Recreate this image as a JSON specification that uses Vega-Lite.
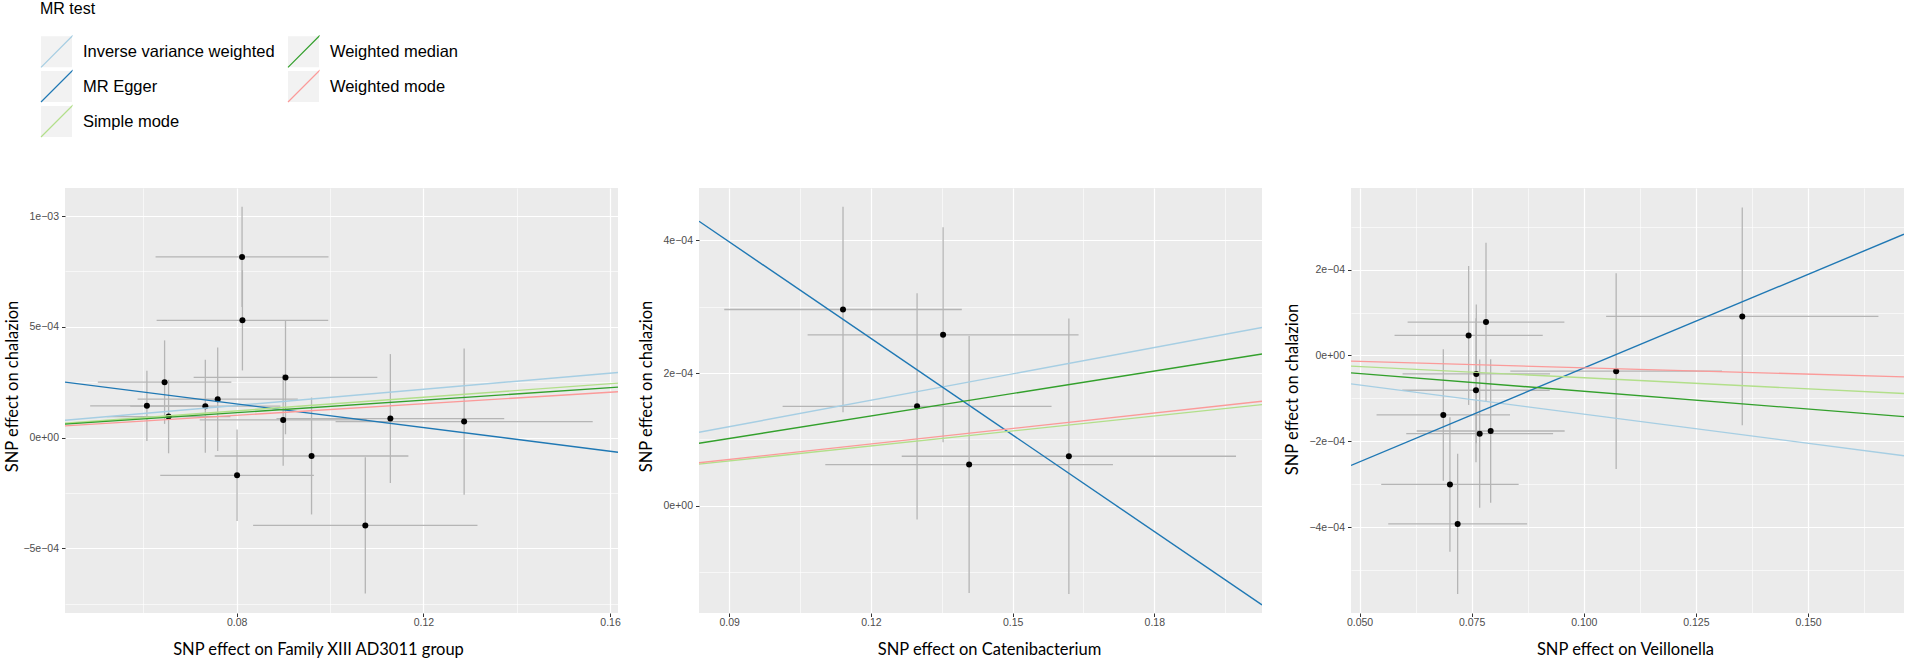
{
  "$schema": "https://vega.github.io/schema/vega-lite/v6.json",
  "autosize": {"type": "none"},
  "padding": {"left": 65, "top": 188, "right": 1842, "bottom": 470},
  "background": "white",
  "config": {
    "view": {"fill": "#EBEBEB", "stroke": null},
    "axis": {
      "domain": false, "tickColor": "#333333", "tickSize": 3.5, "tickWidth": 1,
      "labelColor": "#4D4D4D", "labelFont": "Liberation Sans", "labelFontSize": 10.5,
      "gridColor": "#FFFFFF", "titleFont": "Lato", "titleFontSize": 16.5,
      "titleFontWeight": "normal", "titleColor": "#000000", "labelFlush": false
    },
    "axisX": {"labelPadding": 0.5, "titleBaseline": "alphabetic", "titleAlign": "center", "titleY": 41},
    "axisY": {"labelPadding": 3, "titleBaseline": "alphabetic", "titleAlign": "center", "titleAngle": -90},
    "legend": {
      "titleFont": "Liberation Sans", "titleFontSize": 16, "titleFontWeight": "normal", "titleColor": "#000000",
      "labelFont": "Liberation Sans", "labelFontSize": 16.5, "labelColor": "#000000",
      "padding": 0, "offset": 0
    }
  },
  "datasets": {
    "p1pts": [
      {"x":0.06075,"y":0.0001433,"xlo":0.04859,"xhi":0.07292,"ylo":-0.0000151,"yhi":0.0003017},
      {"x":0.06454,"y":0.0002504,"xlo":0.05023,"xhi":0.07885,"ylo":0.0000619,"yhi":0.0004389},
      {"x":0.06540,"y":0.0000950,"xlo":0.05216,"xhi":0.07864,"ylo":-0.0000709,"yhi":0.0002609},
      {"x":0.07327,"y":0.0001418,"xlo":0.05717,"xhi":0.08937,"ylo":-0.0000679,"yhi":0.0003515},
      {"x":0.07592,"y":0.0001735,"xlo":0.05875,"xhi":0.09309,"ylo":-0.0000603,"yhi":0.0004073},
      {"x":0.08114,"y":0.000816,"xlo":0.06261,"xhi":0.09967,"ylo":0.0005898,"yhi":0.0010422},
      {"x":0.08122,"y":0.0005294,"xlo":0.06283,"xhi":0.09961,"ylo":0.0003032,"yhi":0.0007556},
      {"x":0.09045,"y":0.0002715,"xlo":0.07077,"xhi":0.11013,"ylo":0.0000151,"yhi":0.0005279},
      {"x":0.08995,"y":0.0000799,"xlo":0.07206,"xhi":0.10784,"ylo":-0.0001267,"yhi":0.0002865},
      {"x":0.09603,"y":-0.000083,"xlo":0.07528,"xhi":0.11678,"ylo":-0.000347,"yhi":0.000181},
      {"x":0.08007,"y":-0.0001704,"xlo":0.06361,"xhi":0.09653,"ylo":-0.000377,"yhi":0.0000362},
      {"x":0.10755,"y":-0.0003967,"xlo":0.08351,"xhi":0.13159,"ylo":-0.0007044,"yhi":-0.000089},
      {"x":0.11292,"y":0.000086,"xlo":0.08852,"xhi":0.13732,"ylo":-0.0002051,"yhi":0.0003771},
      {"x":0.12873,"y":0.0000724,"xlo":0.10118,"xhi":0.15628,"ylo":-0.0002579,"yhi":0.0004027}
    ],
    "p1lines": [
      {"method":"Inverse variance weighted","x":0.0432,"y":0.000078},
      {"method":"Inverse variance weighted","x":0.1617,"y":0.000294},
      {"method":"MR Egger","x":0.0432,"y":0.0002504},
      {"method":"MR Egger","x":0.1617,"y":-0.000066},
      {"method":"Simple mode","x":0.0432,"y":0.0000645},
      {"method":"Simple mode","x":0.1617,"y":0.000246},
      {"method":"Weighted median","x":0.0432,"y":0.0000609},
      {"method":"Weighted median","x":0.1617,"y":0.000228},
      {"method":"Weighted mode","x":0.0432,"y":0.000053},
      {"method":"Weighted mode","x":0.1617,"y":0.000207}
    ],
    "p2pts": [
      {"x":0.11409,"y":0.0002957,"xlo":0.08894,"xhi":0.13924,"ylo":0.0001408,"yhi":0.0004506},
      {"x":0.13528,"y":0.0002576,"xlo":0.1066,"xhi":0.16396,"ylo":0.0000956,"yhi":0.0004196},
      {"x":0.12977,"y":0.0001499,"xlo":0.1013,"xhi":0.15824,"ylo":-0.0000205,"yhi":0.0003203},
      {"x":0.14079,"y":0.0000622,"xlo":0.11034,"xhi":0.17124,"ylo":-0.0001313,"yhi":0.0002557},
      {"x":0.16191,"y":0.0000747,"xlo":0.12652,"xhi":0.1973,"ylo":-0.0001328,"yhi":0.0002822}
    ],
    "p2lines": [
      {"method":"Inverse variance weighted","x":0.0836,"y":0.0001108},
      {"method":"Inverse variance weighted","x":0.2028,"y":0.0002687},
      {"method":"MR Egger","x":0.0836,"y":0.0004286},
      {"method":"MR Egger","x":0.2028,"y":-0.0001492},
      {"method":"Simple mode","x":0.0836,"y":0.0000628},
      {"method":"Simple mode","x":0.2028,"y":0.0001525},
      {"method":"Weighted median","x":0.0836,"y":0.0000942},
      {"method":"Weighted median","x":0.2028,"y":0.0002288},
      {"method":"Weighted mode","x":0.0836,"y":0.0000649},
      {"method":"Weighted mode","x":0.2028,"y":0.0001576}
    ],
    "p3pts": [
      {"x":0.13534,"y":0.0000912,"xlo":0.10498,"xhi":0.1657,"ylo":-0.0001628,"yhi":0.0003452},
      {"x":0.10722,"y":-0.0000366,"xlo":0.08362,"xhi":0.13082,"ylo":-0.0002649,"yhi":0.0001917},
      {"x":0.0782,"y":0.0000779,"xlo":0.06072,"xhi":0.09568,"ylo":-0.0001071,"yhi":0.0002629},
      {"x":0.07433,"y":0.0000467,"xlo":0.05781,"xhi":0.09085,"ylo":-0.0001153,"yhi":0.0002087},
      {"x":0.07604,"y":-0.0000429,"xlo":0.0596,"xhi":0.09248,"ylo":-0.0002049,"yhi":0.0001191},
      {"x":0.07597,"y":-0.000081,"xlo":0.05953,"xhi":0.09241,"ylo":-0.000249,"yhi":0.000087},
      {"x":0.06868,"y":-0.0001387,"xlo":0.0538,"xhi":0.08356,"ylo":-0.0002922,"yhi":0.0000148},
      {"x":0.07679,"y":-0.0001823,"xlo":0.06042,"xhi":0.09316,"ylo":-0.0003553,"yhi":-0.0000093},
      {"x":0.07924,"y":-0.0001761,"xlo":0.06274,"xhi":0.09574,"ylo":-0.0003436,"yhi":-0.0000086},
      {"x":0.07016,"y":-0.0003007,"xlo":0.05484,"xhi":0.08548,"ylo":-0.0004575,"yhi":-0.0001439},
      {"x":0.07188,"y":-0.0003927,"xlo":0.0564,"xhi":0.08736,"ylo":-0.0005563,"yhi":-0.0002291}
    ],
    "p3lines": [
      {"method":"Inverse variance weighted","x":0.0481,"y":-0.0000662},
      {"method":"Inverse variance weighted","x":0.1714,"y":-0.0002337},
      {"method":"MR Egger","x":0.0481,"y":-0.0002563},
      {"method":"MR Egger","x":0.1714,"y":0.0002828},
      {"method":"Simple mode","x":0.0481,"y":-0.0000249},
      {"method":"Simple mode","x":0.1714,"y":-0.0000888},
      {"method":"Weighted median","x":0.0481,"y":-0.0000405},
      {"method":"Weighted median","x":0.1714,"y":-0.0001426},
      {"method":"Weighted mode","x":0.0481,"y":-0.0000132},
      {"method":"Weighted mode","x":0.1714,"y":-0.0000499}
    ]
  },
  "bounds": "flush",
  "spacing": 81,
  "resolve": {"scale": {"color": "shared", "x": "independent", "y": "independent"}, "legend": {"color": "shared"}},
  "hconcat": [
    {
      "width": 553, "height": 425,
      "layer": [
        {
          "data": {"name": "p1pts"},
          "mark": {"type": "rule", "color": "#B5B5B5", "strokeWidth": 1.3, "clip": true},
          "encoding": {
            "x": {"field": "xlo", "type": "quantitative",
              "scale": {"domain": [0.0432, 0.1617], "nice": false, "zero": false},
              "axis": {
                "title": "SNP effect on Family XIII AD3011 group",
                "values": [0.06, 0.08, 0.1, 0.12, 0.14, 0.16],
                "labelExpr": "indexof([0.08,0.12,0.16], datum.value) >= 0 ? format(datum.value, '.2f') : ''",
                "gridWidth": {"condition": {"test": "indexof([0.08,0.12,0.16], datum.value) >= 0", "value": 1.2}, "value": 0.6},
                "tickOpacity": {"condition": {"test": "indexof([0.08,0.12,0.16], datum.value) >= 0", "value": 1}, "value": 0},
                "titleX": 253
              }},
            "x2": {"field": "xhi"},
            "y": {"field": "y", "type": "quantitative",
              "scale": {"domain": [-0.000792, 0.001127], "nice": false, "zero": false},
              "axis": {
                "title": "SNP effect on chalazion",
                "values": [-0.00075, -0.0005, -0.00025, 0, 0.00025, 0.0005, 0.00075, 0.001],
                "labelExpr": "datum.value == 0.001 ? '1e−03' : datum.value == 0.0005 ? '5e−04' : datum.value == 0 ? '0e+00' : datum.value == -0.0005 ? '−5e−04' : ''",
                "gridWidth": {"condition": {"test": "indexof([-0.0005,0,0.0005,0.001], datum.value) >= 0", "value": 1.2}, "value": 0.6},
                "tickOpacity": {"condition": {"test": "indexof([-0.0005,0,0.0005,0.001], datum.value) >= 0", "value": 1}, "value": 0},
                "titleX": -48, "titleY": 198
              }}
          }
        },
        {
          "data": {"name": "p1pts"},
          "mark": {"type": "rule", "color": "#B5B5B5", "strokeWidth": 1.3, "clip": true},
          "encoding": {
            "x": {"field": "x", "type": "quantitative", "scale": {"domain": [0.0432, 0.1617], "nice": false, "zero": false}},
            "y": {"field": "ylo", "type": "quantitative", "scale": {"domain": [-0.000792, 0.001127], "nice": false, "zero": false}},
            "y2": {"field": "yhi"}
          }
        },
        {
          "data": {"name": "p1pts"},
          "mark": {"type": "circle", "size": 36, "color": "#000000", "opacity": 1},
          "encoding": {
            "x": {"field": "x", "type": "quantitative", "scale": {"domain": [0.0432, 0.1617], "nice": false, "zero": false}},
            "y": {"field": "y", "type": "quantitative", "scale": {"domain": [-0.000792, 0.001127], "nice": false, "zero": false}}
          }
        },
        {
          "data": {"name": "p1lines"},
          "mark": {"type": "line", "strokeWidth": 1.4, "clip": true},
          "encoding": {
            "x": {"field": "x", "type": "quantitative", "scale": {"domain": [0.0432, 0.1617], "nice": false, "zero": false}},
            "y": {"field": "y", "type": "quantitative", "scale": {"domain": [-0.000792, 0.001127], "nice": false, "zero": false}},
            "color": {"field": "method", "type": "nominal",
              "scale": {"domain": ["Inverse variance weighted", "MR Egger", "Simple mode", "Weighted median", "Weighted mode"], "range": ["#A6CEE3", "#1F78B4", "#B2DF8A", "#33A02C", "#FB9A99"]},
              "legend": {"title": "MR test", "orient": "none", "legendX": -25, "legendY": -187, "columns": 2, "symbolType": "M-1,1L1,-1L1,1L-1,1L-1,-1L1,-1", "symbolSize": 961, "symbolStrokeWidth": 1.2, "symbolDash": [43.9, 400], "symbolFillColor": "#F2F2F2", "rowPadding": -7, "columnPadding": 10, "labelOffset": 9.9, "labelLimit": 0, "titlePadding": 18,
                "encode": {"symbols": {"update": {"fill": {"value": "#F2F2F2"}, "strokeDash": {"value": [43.9, 400]}}}}}}
          }
        }
      ]
    },
    {
      "bounds": "flush",
      "spacing": 89,
      "resolve": {"scale": {"color": "shared", "x": "independent", "y": "independent"}, "legend": {"color": "shared"}},
      "hconcat": [
        {
          "width": 563, "height": 425,
          "layer": [
            {
              "data": {"name": "p2pts"},
              "mark": {"type": "rule", "color": "#B5B5B5", "strokeWidth": 1.3, "clip": true},
              "encoding": {
                "x": {"field": "xlo", "type": "quantitative",
                  "scale": {"domain": [0.0836, 0.2028], "nice": false, "zero": false},
                  "axis": {
                    "title": "SNP effect on Catenibacterium",
                    "values": [0.09, 0.105, 0.12, 0.135, 0.15, 0.165, 0.18, 0.195],
                    "labelExpr": "indexof([0.09,0.12,0.15,0.18], datum.value) >= 0 ? format(datum.value, '.2f') : ''",
                    "gridWidth": {"condition": {"test": "indexof([0.09,0.12,0.15,0.18], datum.value) >= 0", "value": 1.2}, "value": 0.6},
                    "tickOpacity": {"condition": {"test": "indexof([0.09,0.12,0.15,0.18], datum.value) >= 0", "value": 1}, "value": 0},
                    "titleX": 290
                  }},
                "x2": {"field": "xhi"},
                "y": {"field": "y", "type": "quantitative",
                  "scale": {"domain": [-0.0001614, 0.0004787], "nice": false, "zero": false},
                  "axis": {
                    "title": "SNP effect on chalazion",
                    "values": [-0.0001, 0, 0.0001, 0.0002, 0.0003, 0.0004],
                    "labelExpr": "datum.value == 0.0004 ? '4e−04' : datum.value == 0.0002 ? '2e−04' : datum.value == 0 ? '0e+00' : ''",
                    "gridWidth": {"condition": {"test": "indexof([0,0.0002,0.0004], datum.value) >= 0", "value": 1.2}, "value": 0.6},
                    "tickOpacity": {"condition": {"test": "indexof([0,0.0002,0.0004], datum.value) >= 0", "value": 1}, "value": 0},
                    "titleX": -48, "titleY": 198
                  }}
              }
            },
            {
              "data": {"name": "p2pts"},
              "mark": {"type": "rule", "color": "#B5B5B5", "strokeWidth": 1.3, "clip": true},
              "encoding": {
                "x": {"field": "x", "type": "quantitative", "scale": {"domain": [0.0836, 0.2028], "nice": false, "zero": false}},
                "y": {"field": "ylo", "type": "quantitative", "scale": {"domain": [-0.0001614, 0.0004787], "nice": false, "zero": false}},
                "y2": {"field": "yhi"}
              }
            },
            {
              "data": {"name": "p2pts"},
              "mark": {"type": "circle", "size": 36, "color": "#000000", "opacity": 1},
              "encoding": {
                "x": {"field": "x", "type": "quantitative", "scale": {"domain": [0.0836, 0.2028], "nice": false, "zero": false}},
                "y": {"field": "y", "type": "quantitative", "scale": {"domain": [-0.0001614, 0.0004787], "nice": false, "zero": false}}
              }
            },
            {
              "data": {"name": "p2lines"},
              "mark": {"type": "line", "strokeWidth": 1.4, "clip": true},
              "encoding": {
                "x": {"field": "x", "type": "quantitative", "scale": {"domain": [0.0836, 0.2028], "nice": false, "zero": false}},
                "y": {"field": "y", "type": "quantitative", "scale": {"domain": [-0.0001614, 0.0004787], "nice": false, "zero": false}},
                "color": {"field": "method", "type": "nominal",
                  "scale": {"domain": ["Inverse variance weighted", "MR Egger", "Simple mode", "Weighted median", "Weighted mode"], "range": ["#A6CEE3", "#1F78B4", "#B2DF8A", "#33A02C", "#FB9A99"]},
                  "legend": {"title": "MR test", "orient": "none", "legendX": -25, "legendY": -187, "columns": 2, "symbolType": "M-1,1L1,-1L1,1L-1,1L-1,-1L1,-1", "symbolSize": 961, "symbolStrokeWidth": 1.2, "symbolDash": [43.9, 400], "symbolFillColor": "#F2F2F2", "rowPadding": -7, "columnPadding": 10, "labelOffset": 9.9, "labelLimit": 0, "titlePadding": 18,
                    "encode": {"symbols": {"update": {"fill": {"value": "#F2F2F2"}, "strokeDash": {"value": [43.9, 400]}}}}}}
              }
            }
          ]
        },
        {
          "width": 553, "height": 425,
          "layer": [
            {
              "data": {"name": "p3pts"},
              "mark": {"type": "rule", "color": "#B5B5B5", "strokeWidth": 1.3, "clip": true},
              "encoding": {
                "x": {"field": "xlo", "type": "quantitative",
                  "scale": {"domain": [0.0481, 0.1714], "nice": false, "zero": false},
                  "axis": {
                    "title": "SNP effect on Veillonella",
                    "values": [0.05, 0.0625, 0.075, 0.0875, 0.1, 0.1125, 0.125, 0.1375, 0.15, 0.1625],
                    "labelExpr": "indexof([0.05,0.075,0.1,0.125,0.15], datum.value) >= 0 ? format(datum.value, '.3f') : ''",
                    "gridWidth": {"condition": {"test": "indexof([0.05,0.075,0.1,0.125,0.15], datum.value) >= 0", "value": 1.2}, "value": 0.6},
                    "tickOpacity": {"condition": {"test": "indexof([0.05,0.075,0.1,0.125,0.15], datum.value) >= 0", "value": 1}, "value": 0},
                    "titleX": 274
                  }},
                "x2": {"field": "xhi"},
                "y": {"field": "y", "type": "quantitative",
                  "scale": {"domain": [-0.0006005, 0.0003906], "nice": false, "zero": false},
                  "axis": {
                    "title": "SNP effect on chalazion",
                    "values": [-0.0005, -0.0004, -0.0003, -0.0002, -0.0001, 0, 0.0001, 0.0002, 0.0003],
                    "labelExpr": "datum.value == 0.0002 ? '2e−04' : datum.value == 0 ? '0e+00' : datum.value == -0.0002 ? '−2e−04' : datum.value == -0.0004 ? '−4e−04' : ''",
                    "gridWidth": {"condition": {"test": "indexof([-0.0004,-0.0002,0,0.0002], datum.value) >= 0", "value": 1.2}, "value": 0.6},
                    "tickOpacity": {"condition": {"test": "indexof([-0.0004,-0.0002,0,0.0002], datum.value) >= 0", "value": 1}, "value": 0},
                    "titleX": -54, "titleY": 201
                  }}
              }
            },
            {
              "data": {"name": "p3pts"},
              "mark": {"type": "rule", "color": "#B5B5B5", "strokeWidth": 1.3, "clip": true},
              "encoding": {
                "x": {"field": "x", "type": "quantitative", "scale": {"domain": [0.0481, 0.1714], "nice": false, "zero": false}},
                "y": {"field": "ylo", "type": "quantitative", "scale": {"domain": [-0.0006005, 0.0003906], "nice": false, "zero": false}},
                "y2": {"field": "yhi"}
              }
            },
            {
              "data": {"name": "p3pts"},
              "mark": {"type": "circle", "size": 36, "color": "#000000", "opacity": 1},
              "encoding": {
                "x": {"field": "x", "type": "quantitative", "scale": {"domain": [0.0481, 0.1714], "nice": false, "zero": false}},
                "y": {"field": "y", "type": "quantitative", "scale": {"domain": [-0.0006005, 0.0003906], "nice": false, "zero": false}}
              }
            },
            {
              "data": {"name": "p3lines"},
              "mark": {"type": "line", "strokeWidth": 1.4, "clip": true},
              "encoding": {
                "x": {"field": "x", "type": "quantitative", "scale": {"domain": [0.0481, 0.1714], "nice": false, "zero": false}},
                "y": {"field": "y", "type": "quantitative", "scale": {"domain": [-0.0006005, 0.0003906], "nice": false, "zero": false}},
                "color": {"field": "method", "type": "nominal",
                  "scale": {"domain": ["Inverse variance weighted", "MR Egger", "Simple mode", "Weighted median", "Weighted mode"], "range": ["#A6CEE3", "#1F78B4", "#B2DF8A", "#33A02C", "#FB9A99"]},
                  "legend": {"title": "MR test", "orient": "none", "legendX": -25, "legendY": -187, "columns": 2, "symbolType": "M-1,1L1,-1L1,1L-1,1L-1,-1L1,-1", "symbolSize": 961, "symbolStrokeWidth": 1.2, "symbolDash": [43.9, 400], "symbolFillColor": "#F2F2F2", "rowPadding": -7, "columnPadding": 10, "labelOffset": 9.9, "labelLimit": 0, "titlePadding": 18,
                    "encode": {"symbols": {"update": {"fill": {"value": "#F2F2F2"}, "strokeDash": {"value": [43.9, 400]}}}}}}
              }
            }
          ]
        }
      ]
    }
  ]
}
